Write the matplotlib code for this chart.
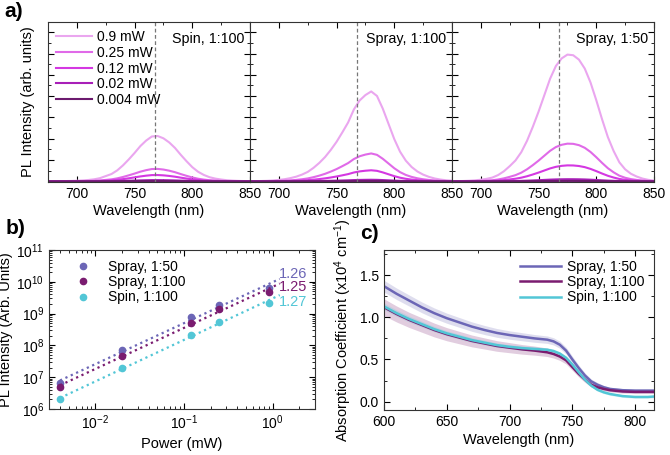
import numpy as np
import matplotlib
matplotlib.use("Agg")
import matplotlib.pyplot as plt
from matplotlib.ticker import MultipleLocator, LogLocator, NullFormatter

plt.rcParams['font.family'] = ['Liberation Sans', 'DejaVu Sans']
plt.rcParams['mathtext.default'] = 'regular'
plt.rcParams['xtick.direction'] = 'in'
plt.rcParams['ytick.direction'] = 'in'
plt.rcParams['xtick.top'] = True
plt.rcParams['ytick.right'] = True
plt.rcParams['axes.edgecolor'] = '#333333'

# ---- panel a: PL spectra (normalised shapes) ----
pl_wl = np.arange(675, 851, 5)
shape_spin100 = [0.000, 0.002, 0.004, 0.006, 0.009, 0.014, 0.020, 0.030, 0.045, 0.070,
                 0.115, 0.160, 0.240, 0.350, 0.480, 0.620, 0.770, 0.890, 0.980, 0.990,
                 0.940, 0.850, 0.730, 0.580, 0.440, 0.310, 0.210, 0.140, 0.090, 0.060,
                 0.040, 0.025, 0.016, 0.010, 0.006, 0.004]
shape_spray100 = [0.000, 0.002, 0.004, 0.006, 0.010, 0.016, 0.024, 0.036, 0.052, 0.075,
                  0.105, 0.150, 0.205, 0.270, 0.350, 0.440, 0.545, 0.655, 0.800, 0.900,
                  0.960, 1.000, 0.950, 0.810, 0.640, 0.470, 0.330, 0.230, 0.160, 0.110,
                  0.075, 0.050, 0.032, 0.020, 0.012, 0.008]
shape_spray50 = [0.000, 0.002, 0.003, 0.005, 0.008, 0.013, 0.020, 0.030, 0.050, 0.080,
                 0.120, 0.165, 0.230, 0.320, 0.430, 0.550, 0.680, 0.810, 0.910, 0.970,
                 1.000, 0.995, 0.960, 0.890, 0.780, 0.640, 0.490, 0.350, 0.240, 0.150,
                 0.095, 0.060, 0.038, 0.022, 0.012, 0.006]

powers_lbl = ['0.9 mW', '0.25 mW', '0.12 mW', '0.02 mW', '0.004 mW']
pl_colors = ['#eaa6ef', '#e06ae8', '#d438e2', '#a81fb8', '#6c1a6e']
# peak heights (arb.) per power, 0.9 -> 0.004 mW
peak_spin100 = [2.15, 0.59, 0.30, 0.06, 0.015]
peak_spray100 = [4.22, 1.31, 0.52, 0.075, 0.015]
peak_spray50 = [5.95, 1.77, 0.75, 0.10, 0.02]

panels_a = [('Spin, 1:100', shape_spin100, peak_spin100),
            ('Spray, 1:100', shape_spray100, peak_spray100),
            ('Spray, 1:50', shape_spray50, peak_spray50)]

# ---- panel b: power dependence ----
power = [0.004, 0.02, 0.12, 0.25, 0.9]
pl_spray50 = [6.4e6, 7.4e7, 7.8e8, 1.8e9, 6.6e9]
pl_spray100 = [4.8e6, 4.8e7, 5.2e8, 1.4e9, 4.7e9]
pl_spin100 = [2.0e6, 1.9e7, 2.2e8, 5.4e8, 2.2e9]
slopes = ['1.26', '1.25', '1.27']
slope_y = [1.8e10, 6.9e9, 2.35e9]

# ---- panel c: absorption ----
abs_wl = [600, 610, 620, 630, 640, 650, 660, 670, 680, 690, 700, 710, 720, 730,
          735, 740, 745, 750, 755, 760, 765, 770, 775, 780, 790, 800, 810, 815]
abs_spray50 = [1.37, 1.28, 1.20, 1.12, 1.05, 0.99, 0.94, 0.89, 0.85, 0.815, 0.79, 0.77,
               0.75, 0.735, 0.715, 0.675, 0.605, 0.50, 0.40, 0.31, 0.24, 0.20, 0.17,
               0.15, 0.135, 0.13, 0.13, 0.13]
abs_spray100 = [1.12, 1.04, 0.97, 0.91, 0.85, 0.80, 0.76, 0.72, 0.69, 0.66, 0.64, 0.62,
                0.605, 0.585, 0.565, 0.535, 0.49, 0.41, 0.33, 0.26, 0.20, 0.17, 0.15,
                0.135, 0.12, 0.115, 0.115, 0.115]
abs_spin100 = [1.13, 1.05, 0.98, 0.92, 0.86, 0.81, 0.77, 0.73, 0.70, 0.67, 0.65, 0.635,
               0.625, 0.615, 0.60, 0.57, 0.52, 0.44, 0.35, 0.26, 0.19, 0.14, 0.11,
               0.09, 0.065, 0.055, 0.055, 0.06]
err_spray50 = [0.07, 0.068, 0.066, 0.064, 0.062, 0.06, 0.058, 0.056, 0.054, 0.052, 0.05,
               0.048, 0.046, 0.044, 0.043, 0.042, 0.04, 0.038, 0.035, 0.03, 0.028, 0.025,
               0.022, 0.02, 0.02, 0.02, 0.02, 0.02]
err_spray100 = [0.1, 0.095, 0.09, 0.086, 0.082, 0.078, 0.074, 0.07, 0.066, 0.063, 0.06,
                0.057, 0.054, 0.05, 0.048, 0.046, 0.044, 0.04, 0.036, 0.032, 0.028, 0.025,
                0.022, 0.02, 0.02, 0.02, 0.02, 0.02]
err_spin100 = [0.04, 0.038, 0.036, 0.034, 0.032, 0.03, 0.03, 0.028, 0.028, 0.026, 0.025,
               0.025, 0.024, 0.024, 0.023, 0.022, 0.021, 0.02, 0.02, 0.02, 0.018, 0.016,
               0.015, 0.015, 0.015, 0.015, 0.015, 0.015]

c_spray50 = '#6c66b6'
c_spray100 = '#7a1c70'
c_spin100 = '#52c6d6'

fig = plt.figure(figsize=(6.7, 4.55), dpi=100)

# ---------- a ----------
W, H = 670.0, 455.0
lefts = [48, 250, 452]
for i, (title, shape, peaks) in enumerate(panels_a):
    ax = fig.add_axes([lefts[i] / W, (H - 182) / H, 202 / W, 160 / H])
    for lbl, col, pk in zip(powers_lbl, pl_colors, peaks):
        ax.plot(pl_wl, np.array(shape) * pk, color=col, lw=1.5, label=lbl)
    ax.axvline(768, color='#777777', ls='--', lw=0.9, dashes=(3, 2))
    ax.set_xlim(675, 850)
    ax.set_ylim(-0.03, 7.48)
    ax.xaxis.set_major_locator(MultipleLocator(50))
    ax.xaxis.set_minor_locator(MultipleLocator(25))
    ax.yaxis.set_major_locator(MultipleLocator(1))
    ax.yaxis.set_minor_locator(MultipleLocator(0.5))
    ax.tick_params(which='major', length=4, labelsize=10)
    ax.tick_params(which='minor', length=2)
    ax.set_yticklabels([])
    ax.set_xlabel('Wavelength (nm)', fontsize=10.5, labelpad=2)
    ax.text(0.97, 0.94, title, transform=ax.transAxes, ha='right', va='top', fontsize=10.3)
    if i == 0:
        ax.set_ylabel('PL Intensity (arb. units)', fontsize=10.5, labelpad=6)
        ax.legend(loc='upper left', frameon=False, fontsize=10, handlelength=2.6,
                  handletextpad=0.3, labelspacing=0.12, borderaxespad=0.2,
                  bbox_to_anchor=(0.0, 1.0))

# ---------- b ----------
axb = fig.add_axes([49 / W, (H - 409) / H, 266 / W, 159 / H])
series_b = [('Spray, 1:50', pl_spray50, c_spray50),
            ('Spray, 1:100', pl_spray100, c_spray100),
            ('Spin, 1:100', pl_spin100, c_spin100)]
xfit = np.array([0.004, 1.2])
for (lbl, vals, col), s, sy in zip(series_b, slopes, slope_y):
    axb.plot(power, vals, 'o', color=col, ms=4.5, label=lbl)
    k, b = np.polyfit(np.log10(power), np.log10(vals), 1)
    axb.plot(xfit, 10 ** (k * np.log10(xfit) + b), ls=':', color=col, lw=1.6)
    axb.text(1.17, sy, s, color=col, fontsize=10.5, va='center', ha='left')
axb.set_xscale('log')
axb.set_yscale('log')
axb.set_xlim(0.003, 3)
axb.set_ylim(1e6, 1e11)
axb.xaxis.set_minor_locator(LogLocator(base=10, subs=np.arange(2, 10), numticks=20))
axb.xaxis.set_minor_formatter(NullFormatter())
axb.yaxis.set_major_locator(LogLocator(base=10, numticks=20))
axb.yaxis.set_minor_locator(LogLocator(base=10, subs=np.arange(2, 10), numticks=20))
axb.yaxis.set_minor_formatter(NullFormatter())
axb.tick_params(which='major', length=4, labelsize=10)
axb.tick_params(which='minor', length=2)
axb.set_xlabel('Power (mW)', fontsize=10.5, labelpad=3)
axb.set_ylabel('PL Intensity (Arb. Units)', fontsize=10.5, labelpad=2)
axb.legend(loc='upper left', frameon=False, fontsize=10, handletextpad=0.8,
           labelspacing=0.1, borderaxespad=0.3, bbox_to_anchor=(0.04, 1.0))

# ---------- c ----------
axc = fig.add_axes([384 / W, (H - 410) / H, 270 / W, 160 / H])
series_c = [('Spray, 1:50', abs_spray50, err_spray50, c_spray50),
            ('Spray, 1:100', abs_spray100, err_spray100, c_spray100),
            ('Spin, 1:100', abs_spin100, err_spin100, c_spin100)]
for lbl, vals, err, col in series_c:
    v = np.array(vals)
    e = np.array(err)
    axc.fill_between(abs_wl, v - e, v + e, color=col, alpha=0.22, lw=0)
for lbl, vals, err, col in series_c:
    axc.plot(abs_wl, vals, color=col, lw=1.8, label=lbl)
axc.set_xlim(600, 815)
axc.set_ylim(-0.1, 1.8)
axc.xaxis.set_major_locator(MultipleLocator(50))
axc.xaxis.set_minor_locator(MultipleLocator(25))
axc.yaxis.set_major_locator(MultipleLocator(0.5))
axc.yaxis.set_minor_locator(MultipleLocator(0.25))
axc.tick_params(which='major', length=4, labelsize=10)
axc.tick_params(which='minor', length=2)
axc.set_xlabel('Wavelength (nm)', fontsize=10.5, labelpad=3)
axc.set_ylabel('Absorption Coefficient (x10$^{4}$ cm$^{-1}$)', fontsize=10.5, labelpad=4)
axc.legend(loc='upper right', frameon=False, fontsize=10, handlelength=3.0,
           handletextpad=0.4, labelspacing=0.1, borderaxespad=0.3)

fig.text(0.006, 0.995, 'a)', fontsize=15, fontweight='bold', va='top', ha='left')
fig.text(0.008, 0.518, 'b)', fontsize=15, fontweight='bold', va='top', ha='left')
fig.text(0.538, 0.508, 'c)', fontsize=15, fontweight='bold', va='top', ha='left')

fig.savefig('out.png', dpi=100)
